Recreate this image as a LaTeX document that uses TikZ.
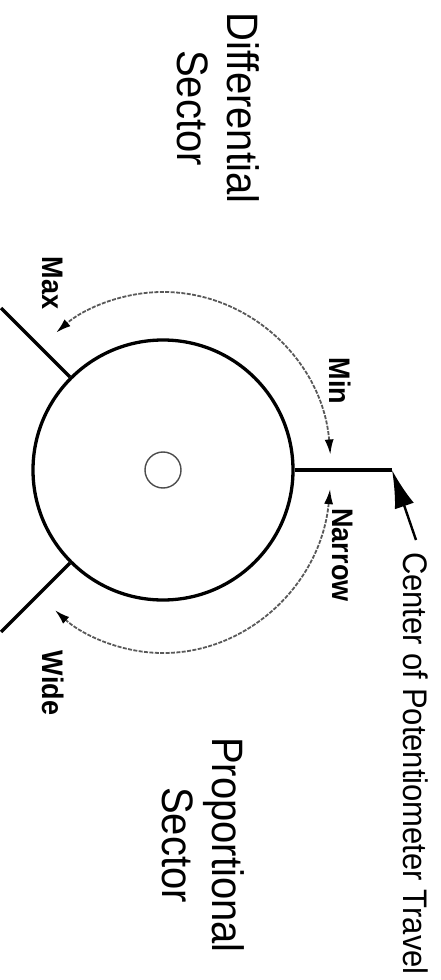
\documentclass[tikz,border=0pt]{standalone}
\usepackage{fontspec}
\setmainfont{Liberation Sans}
\usetikzlibrary{arrows.meta}

\begin{document}
\begin{tikzpicture}[x=0.5pt,y=0.5pt,
                    testo/.style={rotate=-90,yscale=1.1,inner sep=2pt},
                    settore/.style={testo,align=center,font=\fontsize{20pt}{22.5pt}\selectfont},
                    etich/.style={testo,font=\fontsize{13.5pt}{15pt}\selectfont\bfseries},
                    raggio/.style={line width=1.6pt},
                    corsa/.style={draw=black!65,line width=0.9pt,dash pattern=on 2pt off 0.7pt,
                      {Latex[length=7.5pt,width=4.5pt,color=black]}-{Latex[length=7.5pt,width=4.5pt,color=black]}},
                    puntatore/.style={line width=1.2pt,-{Latex[length=19pt,width=10pt]}}]
  \useasboundingbox (-163,-510) rectangle (277,470);
  % quadrante e manopola
  \node[draw,circle,line width=1.65pt,minimum size=130pt,inner sep=0pt] (dial) at (0,0) {};
  \node[draw=black!70,circle,line width=0.7pt,minimum size=18pt,inner sep=0pt] (knob) at (dial.center) {};
  \foreach \ang/\nm in {0/ctr,135/maxend,225/wideend} {
    \coordinate (\nm) at (\ang:229);
    \draw[raggio] (dial.\ang) -- (\nm);
  }
  % corse Min-Max e Narrow-Wide
  \draw[corsa] (5:168 and 178) arc[start angle=5,end angle=129.5,x radius=168,y radius=178];
  \draw[corsa] (-6:168 and 183) arc[start angle=-6,end angle=-130,x radius=168,y radius=183];
  \node[etich] (lmin) at (177,89) {Min};
  \node[etich] (lnarrow) at (180,-85) {Narrow};
  \node[etich] (lmax) at (-110,187) {Max};
  \node[etich] (lwide) at (-110,-213) {Wide};
  \node[settore] (diff) at (55,362) {Differential\\Sector};
  \node[settore] (prop) at (40,-375) {Proportional\\Sector};
  \node[testo,font=\fontsize{15.5pt}{18pt}\selectfont,anchor=west,outer sep=4pt] (travel) at (253,-70)
    {Center of Potentiometer Travel};
  \draw[puntatore] (travel.west) -- (ctr);
\end{tikzpicture}
\end{document}
